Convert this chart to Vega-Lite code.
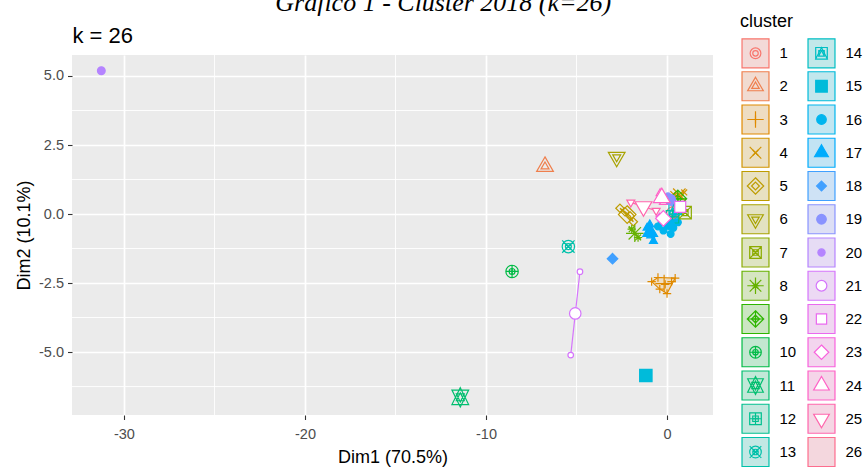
{
  "$schema": "https://vega.github.io/schema/vega-lite/v6.json",
  "width": 641,
  "height": 360,
  "autosize": {"type": "none"},
  "padding": {"left": 72, "top": 55, "right": 155, "bottom": 55},
  "background": "white",
  "title": {
    "text": "Gráfico 1 - Cluster 2018 (k=26)",
    "font": "Liberation Serif",
    "fontStyle": "italic",
    "fontWeight": "normal",
    "fontSize": 26,
    "color": "black",
    "anchor": "middle",
    "frame": "bounds",
    "offset": 0,
    "dy": 3,
    "dx": 4
  },
  "config": {
    "view": {"fill": "#EBEBEB", "stroke": null},
    "font": "Liberation Sans",
    "legend": {"symbolFillColor": "transparent"}
  },
  "datasets": {
    "gx": [{"v": -25}, {"v": -15}, {"v": -5}],
    "gy": [{"v": 3.75}, {"v": 1.25}, {"v": -1.25}, {"v": -3.75}, {"v": -6.25}],
    "hull": [
      {"cluster": "3", "x": -0.85, "y": -2.45, "ord": 1},
      {"cluster": "3", "x": -0.5, "y": -2.3, "ord": 2},
      {"cluster": "3", "x": 0.45, "y": -2.32, "ord": 3},
      {"cluster": "3", "x": 0.0, "y": -2.88, "ord": 4},
      {"cluster": "3", "x": -0.4, "y": -2.72, "ord": 5},
      {"cluster": "3", "x": -0.85, "y": -2.45, "ord": 6},
      {"cluster": "4", "x": 0.35, "y": 0.72, "ord": 1},
      {"cluster": "4", "x": 0.95, "y": 0.78, "ord": 2},
      {"cluster": "4", "x": 0.75, "y": 0.6, "ord": 3},
      {"cluster": "4", "x": 0.35, "y": 0.72, "ord": 4},
      {"cluster": "5", "x": -2.6, "y": 0.21, "ord": 1},
      {"cluster": "5", "x": -2.32, "y": 0.08, "ord": 2},
      {"cluster": "5", "x": -2.04, "y": -0.07, "ord": 3},
      {"cluster": "5", "x": -1.86, "y": -0.28, "ord": 4},
      {"cluster": "5", "x": -2.6, "y": 0.21, "ord": 5},
      {"cluster": "8", "x": -1.95, "y": -0.55, "ord": 1},
      {"cluster": "8", "x": -1.6, "y": -0.85, "ord": 2},
      {"cluster": "16", "x": -0.5, "y": -0.45, "ord": 1},
      {"cluster": "16", "x": -0.05, "y": -0.25, "ord": 2},
      {"cluster": "16", "x": 0.5, "y": 0.0, "ord": 3},
      {"cluster": "16", "x": 0.6, "y": -0.3, "ord": 4},
      {"cluster": "16", "x": 0.2, "y": -0.72, "ord": 5},
      {"cluster": "16", "x": -0.2, "y": -0.6, "ord": 6},
      {"cluster": "16", "x": -0.5, "y": -0.45, "ord": 7},
      {"cluster": "17", "x": -1.1, "y": -0.5, "ord": 1},
      {"cluster": "17", "x": -0.95, "y": -0.38, "ord": 2},
      {"cluster": "17", "x": -0.75, "y": -0.98, "ord": 3},
      {"cluster": "17", "x": -1.1, "y": -0.5, "ord": 4},
      {"cluster": "19", "x": 0.05, "y": 0.65, "ord": 1},
      {"cluster": "19", "x": 0.3, "y": 0.4, "ord": 2},
      {"cluster": "21", "x": -4.81, "y": -2.09, "ord": 1},
      {"cluster": "21", "x": -5.32, "y": -5.11, "ord": 2},
      {"cluster": "22", "x": 0.6, "y": 0.32, "ord": 1},
      {"cluster": "22", "x": 0.86, "y": 0.2, "ord": 2},
      {"cluster": "23", "x": -0.4, "y": -0.1, "ord": 1},
      {"cluster": "23", "x": 0.0, "y": -0.22, "ord": 2},
      {"cluster": "24", "x": -0.38, "y": 0.75, "ord": 1},
      {"cluster": "24", "x": -0.2, "y": 0.43, "ord": 2},
      {"cluster": "25", "x": -2.0, "y": 0.42, "ord": 1},
      {"cluster": "25", "x": -0.6, "y": 0.12, "ord": 2}
    ],
    "obs": [
      {"cluster": "1", "x": 0.3, "y": 0.05},
      {"cluster": "2", "x": -6.74, "y": 1.72},
      {"cluster": "3", "x": -0.85, "y": -2.45},
      {"cluster": "3", "x": -0.5, "y": -2.3},
      {"cluster": "3", "x": -0.1, "y": -2.55},
      {"cluster": "3", "x": 0.25, "y": -2.45},
      {"cluster": "3", "x": -0.4, "y": -2.72},
      {"cluster": "3", "x": 0.0, "y": -2.88},
      {"cluster": "3", "x": 0.45, "y": -2.32},
      {"cluster": "4", "x": 0.35, "y": 0.72},
      {"cluster": "4", "x": 0.75, "y": 0.6},
      {"cluster": "4", "x": 0.95, "y": 0.78},
      {"cluster": "5", "x": -2.6, "y": 0.21},
      {"cluster": "5", "x": -2.32, "y": 0.08},
      {"cluster": "5", "x": -2.04, "y": -0.07},
      {"cluster": "5", "x": -1.86, "y": -0.28},
      {"cluster": "6", "x": -2.78, "y": 2.06},
      {"cluster": "7", "x": 1.0, "y": 0.05},
      {"cluster": "8", "x": -1.95, "y": -0.55},
      {"cluster": "8", "x": -1.6, "y": -0.85},
      {"cluster": "9", "x": 0.6, "y": 0.55},
      {"cluster": "10", "x": -8.56, "y": -2.08},
      {"cluster": "11", "x": -11.42, "y": -6.64},
      {"cluster": "12", "x": 0.3, "y": -0.1},
      {"cluster": "13", "x": -5.45, "y": -1.18},
      {"cluster": "14", "x": 0.45, "y": 0.2},
      {"cluster": "15", "x": -1.17, "y": -5.85},
      {"cluster": "16", "x": -0.5, "y": -0.45},
      {"cluster": "16", "x": -0.2, "y": -0.6},
      {"cluster": "16", "x": 0.1, "y": -0.42},
      {"cluster": "16", "x": 0.3, "y": -0.2},
      {"cluster": "16", "x": 0.5, "y": 0.0},
      {"cluster": "16", "x": 0.2, "y": -0.72},
      {"cluster": "16", "x": -0.05, "y": -0.25},
      {"cluster": "16", "x": 0.6, "y": -0.3},
      {"cluster": "16", "x": -0.3, "y": -0.3},
      {"cluster": "16", "x": 0.35, "y": -0.5},
      {"cluster": "17", "x": -1.1, "y": -0.5},
      {"cluster": "17", "x": -0.9, "y": -0.78},
      {"cluster": "17", "x": -0.75, "y": -0.98},
      {"cluster": "17", "x": -0.95, "y": -0.38},
      {"cluster": "18", "x": -3.01, "y": -1.62},
      {"cluster": "19", "x": 0.05, "y": 0.65},
      {"cluster": "19", "x": 0.3, "y": 0.4},
      {"cluster": "20", "x": -31.25, "y": 5.19},
      {"cluster": "21", "x": -4.81, "y": -2.09},
      {"cluster": "21", "x": -5.32, "y": -5.11},
      {"cluster": "22", "x": 0.6, "y": 0.32},
      {"cluster": "22", "x": 0.86, "y": 0.2},
      {"cluster": "23", "x": -0.4, "y": -0.1},
      {"cluster": "23", "x": 0.0, "y": -0.22},
      {"cluster": "24", "x": -0.38, "y": 0.75},
      {"cluster": "24", "x": -0.2, "y": 0.43},
      {"cluster": "25", "x": -2.0, "y": 0.42},
      {"cluster": "25", "x": -0.6, "y": 0.12},
      {"cluster": "26", "x": 0.2, "y": 0.1}
    ],
    "cent": [
      {"cluster": "1", "x": 0.3, "y": 0.05},
      {"cluster": "2", "x": -6.74, "y": 1.72},
      {"cluster": "3", "x": -0.16, "y": -2.52},
      {"cluster": "4", "x": 0.68, "y": 0.7},
      {"cluster": "5", "x": -2.2, "y": -0.02},
      {"cluster": "6", "x": -2.78, "y": 2.06},
      {"cluster": "7", "x": 1.0, "y": 0.05},
      {"cluster": "8", "x": -1.78, "y": -0.7},
      {"cluster": "9", "x": 0.6, "y": 0.55},
      {"cluster": "10", "x": -8.56, "y": -2.08},
      {"cluster": "11", "x": -11.42, "y": -6.64},
      {"cluster": "12", "x": 0.3, "y": -0.1},
      {"cluster": "13", "x": -5.45, "y": -1.18},
      {"cluster": "14", "x": 0.45, "y": 0.2},
      {"cluster": "15", "x": -1.17, "y": -5.85},
      {"cluster": "16", "x": 0.12, "y": -0.37},
      {"cluster": "17", "x": -0.93, "y": -0.66},
      {"cluster": "18", "x": -3.01, "y": -1.62},
      {"cluster": "19", "x": 0.18, "y": 0.53},
      {"cluster": "20", "x": -31.25, "y": 5.19},
      {"cluster": "21", "x": -5.07, "y": -3.6},
      {"cluster": "22", "x": 0.73, "y": 0.26},
      {"cluster": "23", "x": -0.2, "y": -0.16},
      {"cluster": "24", "x": -0.29, "y": 0.59},
      {"cluster": "25", "x": -1.3, "y": 0.27},
      {"cluster": "26", "x": 0.2, "y": 0.1}
    ]
  },
  "layer": [
    {
      "data": {"name": "gx"},
      "mark": {"type": "rule", "color": "white", "strokeWidth": 0.9},
      "encoding": {
        "x": {
          "field": "v", "type": "quantitative",
          "scale": {"domain": [-32.87, 2.54], "nice": false, "zero": false},
          "axis": {
            "values": [-30, -20, -10, 0], "format": "d",
            "labelExpr": "replace(datum.label, '−', '-')",
            "grid": true, "gridColor": "white", "gridWidth": 1.7,
            "domain": false, "tickColor": "#333333", "tickSize": 4.5, "tickWidth": 1.1,
            "labelColor": "#4D4D4D", "labelFontSize": 14.5, "labelFont": "Liberation Sans", "labelPadding": 8,
            "title": "Dim1 (70.5%)", "titleFontSize": 18, "titleFontWeight": "normal",
            "titleColor": "black", "titleFont": "Liberation Sans", "titlePadding": 7
          }
        }
      }
    },
    {
      "data": {"name": "gy"},
      "mark": {"type": "rule", "color": "white", "strokeWidth": 0.9},
      "encoding": {
        "y": {
          "field": "v", "type": "quantitative",
          "scale": {"domain": [-7.28, 5.76], "nice": false, "zero": false},
          "axis": {
            "values": [-5, -2.5, 0, 2.5, 5], "format": ".1f",
            "labelExpr": "replace(datum.label, '−', '-')",
            "grid": true, "gridColor": "white", "gridWidth": 1.7,
            "domain": false, "tickColor": "#333333", "tickSize": 4.5, "tickWidth": 1.1,
            "labelColor": "#4D4D4D", "labelFontSize": 14.5, "labelFont": "Liberation Sans", "labelPadding": 4,
            "title": "Dim2 (10.1%)", "titleFontSize": 18, "titleFontWeight": "normal",
            "titleColor": "black", "titleFont": "Liberation Sans", "titlePadding": 5
          }
        }
      }
    },
    {
      "data": {"name": "hull"},
      "mark": {"type": "line", "strokeWidth": 1.2},
      "encoding": {
        "x": {
          "field": "x", "type": "quantitative",
          "scale": {"domain": [-32.87, 2.54], "nice": false, "zero": false},
          "axis": {
            "orient": "top", "labels": false, "ticks": false, "domain": false, "grid": false,
            "title": "k = 26", "titleAnchor": "start", "titleFontSize": 22, "titleFontWeight": "normal",
            "titleColor": "black", "titleFont": "Liberation Sans", "titlePadding": 13, "titleBaseline": "alphabetic"
          }
        },
        "y": {"field": "y", "type": "quantitative", "scale": {"domain": [-7.28, 5.76], "nice": false, "zero": false}},
        "order": {"field": "ord", "type": "quantitative"},
        "stroke": {
          "field": "cluster", "type": "nominal",
          "scale": {
            "domain": ["1","2","3","4","5","6","7","8","9","10","11","12","13","14","15","16","17","18","19","20","21","22","23","24","25","26"],
            "range": ["#F8766D","#EF7F4D","#E08A00","#D19400","#BE9C00","#A8A300","#8CAB00","#66B100","#2DB600","#00BB46","#00BE6F","#00C090","#00C1AA","#00BFC4","#00BBDA","#00B5EE","#00ACFC","#40A0FF","#8993FF","#B584FF","#D575FC","#EA69EF","#F862DD","#FF61C6","#FF65AC","#FD6D8E"]
          },
          "legend": {
            "orient": "none", "legendX": 668, "legendY": -42.5, "direction": "vertical", "columns": 2,
            "title": "cluster", "titleFont": "Liberation Sans", "titleFontSize": 18, "titleFontWeight": "normal",
            "titleColor": "black", "titlePadding": 7,
            "labelFont": "Liberation Sans", "labelFontSize": 15, "labelColor": "black", "labelOffset": 8.5,
            "symbolSize": 841, "symbolStrokeWidth": 1.2, "symbolFillColor": "transparent",
            "symbolType": "M-1,-1M1,1M-0.93,-1H0.93V1H-0.93Z",
            "rowPadding": -1.75, "columnPadding": 7, "padding": 0
          }
        },
        "fill": {
          "field": "cluster", "type": "nominal",
          "scale": {
            "domain": ["1","2","3","4","5","6","7","8","9","10","11","12","13","14","15","16","17","18","19","20","21","22","23","24","25","26"],
            "range": ["#F3D9D7","#F1DBD1","#EEDDC2","#EBDFC2","#E8E1C2","#E3E2C2","#DEE4C2","#D6E5C2","#CBE6C2","#C2E7D0","#C2E8D8","#C2E8DE","#C2E8E4","#C2E8E9","#C2E7ED","#C2E6F1","#C2E4F4","#CEE2F5","#DDDFF5","#E6DCF5","#ECD9F4","#F0D7F1","#F3D5EE","#F5D5E9","#F5D6E4","#F4D7DE"]
          },
          "legend": {
            "orient": "none", "legendX": 668, "legendY": -42.5, "direction": "vertical", "columns": 2,
            "title": "cluster", "titleFont": "Liberation Sans", "titleFontSize": 18, "titleFontWeight": "normal",
            "titleColor": "black", "titlePadding": 7,
            "labelFont": "Liberation Sans", "labelFontSize": 15, "labelColor": "black", "labelOffset": 8.5,
            "symbolSize": 841, "symbolStrokeWidth": 1.2, "symbolFillColor": "transparent",
            "symbolType": "M-1,-1M1,1M-0.93,-1H0.93V1H-0.93Z",
            "rowPadding": -1.75, "columnPadding": 7, "padding": 0
          }
        }
      }
    },
    {
      "data": {"name": "obs"},
      "mark": {"type": "point", "size": 961, "strokeWidth": 1.2, "opacity": 1},
      "encoding": {
        "x": {"field": "x", "type": "quantitative", "scale": {"domain": [-32.87, 2.54], "nice": false, "zero": false}, "axis": null},
        "y": {"field": "y", "type": "quantitative", "scale": {"domain": [-7.28, 5.76], "nice": false, "zero": false}},
        "stroke": {
          "field": "cluster", "type": "nominal",
          "scale": {
            "domain": ["1","2","3","4","5","6","7","8","9","10","11","12","13","14","15","16","17","18","19","20","21","22","23","24","25","26"],
            "range": ["#F8766D","#EF7F4D","#E08A00","#D19400","#BE9C00","#A8A300","#8CAB00","#66B100","#2DB600","#00BB46","#00BE6F","#00C090","#00C1AA","#00BFC4","#00BBDA","#00B5EE","#00ACFC","#40A0FF","#8993FF","#B584FF","#D575FC","#EA69EF","#F862DD","#FF61C6","#FF65AC","#FD6D8E"]
          },
          "legend": {
            "orient": "none", "legendX": 668, "legendY": -42.5, "direction": "vertical", "columns": 2,
            "title": "cluster", "titleFont": "Liberation Sans", "titleFontSize": 18, "titleFontWeight": "normal",
            "titleColor": "transparent", "titlePadding": 7,
            "labelFont": "Liberation Sans", "labelFontSize": 15, "labelColor": "transparent", "labelOffset": 8.5,
            "symbolSize": 841, "symbolStrokeWidth": 1.2, "symbolFillColor": "transparent",
            "rowPadding": -1.75, "columnPadding": 7, "padding": 0
          }
        },
        "fill": {
          "field": "cluster", "type": "nominal",
          "scale": {
            "domain": ["1","2","3","4","5","6","7","8","9","10","11","12","13","14","15","16","17","18","19","20","21","22","23","24","25","26"],
            "range": ["transparent","transparent","transparent","transparent","transparent","transparent","transparent","transparent","transparent","transparent","transparent","transparent","transparent","transparent","#00BBDA","#00B5EE","#00ACFC","#40A0FF","#8993FF","#B584FF","white","white","white","white","white","transparent"]
          },
          "legend": {
            "orient": "none", "legendX": 668, "legendY": -42.5, "direction": "vertical", "columns": 2,
            "title": "cluster", "titleFont": "Liberation Sans", "titleFontSize": 18, "titleFontWeight": "normal",
            "titleColor": "transparent", "titlePadding": 7,
            "labelFont": "Liberation Sans", "labelFontSize": 15, "labelColor": "transparent", "labelOffset": 8.5,
            "symbolSize": 841, "symbolStrokeWidth": 1.2, "symbolFillColor": "transparent",
            "rowPadding": -1.75, "columnPadding": 7, "padding": 0
          }
        },
        "shape": {
          "field": "cluster", "type": "nominal",
          "scale": {
            "domain": ["1","2","3","4","5","6","7","8","9","10","11","12","13","14","15","16","17","18","19","20","21","22","23","24","25","26"],
            "range": [
              "M-1,-1M1,1M0.19,0A0.19,0.19 0 1 1 -0.19,0A0.19,0.19 0 1 1 0.19,0Z",
              "M-1,-1M1,1M0,-0.295L0.256,0.148L-0.256,0.148Z",
              "M-1,-1M1,1M-0.269,0H0.269M0,-0.269V0.269",
              "M-1,-1M1,1M-0.19,-0.19L0.19,0.19M-0.19,0.19L0.19,-0.19",
              "M-1,-1M1,1M0,-0.269L0.269,0L0,0.269L-0.269,0Z",
              "M-1,-1M1,1M0,0.295L0.256,-0.148L-0.256,-0.148Z",
              "M-1,-1M1,1M-0.19,-0.19H0.19V0.19H-0.19ZM-0.19,-0.19L0.19,0.19M-0.19,0.19L0.19,-0.19",
              "M-1,-1M1,1M-0.19,-0.19L0.19,0.19M-0.19,0.19L0.19,-0.19M-0.269,0H0.269M0,-0.269V0.269",
              "M-1,-1M1,1M0,-0.269L0.269,0L0,0.269L-0.269,0ZM-0.269,0H0.269M0,-0.269V0.269",
              "M-1,-1M1,1M0.19,0A0.19,0.19 0 1 1 -0.19,0A0.19,0.19 0 1 1 0.19,0ZM-0.19,0H0.19M0,-0.19V0.19",
              "M-1,-1M1,1M0,-0.295L0.256,0.222L-0.256,0.222ZM0,0.295L0.256,-0.222L-0.256,-0.222Z",
              "M-1,-1M1,1M-0.19,-0.19H0.19V0.19H-0.19ZM-0.19,0H0.19M0,-0.19V0.19",
              "M-1,-1M1,1M0.19,0A0.19,0.19 0 1 1 -0.19,0A0.19,0.19 0 1 1 0.19,0ZM-0.19,-0.19L0.19,0.19M-0.19,0.19L0.19,-0.19",
              "M-1,-1M1,1M-0.19,-0.19H0.19V0.19H-0.19ZM0,-0.19L0.19,0.19L-0.19,0.19Z",
              "M-1,-1M1,1M-0.19,-0.19H0.19V0.19H-0.19Z",
              "M-1,-1M1,1M0.22,0A0.22,0.22 0 1 1 -0.22,0A0.22,0.22 0 1 1 0.22,0Z",
              "M-1,-1M1,1M0,-0.295L0.256,0.148L-0.256,0.148Z",
              "M-1,-1M1,1M0,-0.19L0.19,0L0,0.19L-0.19,0Z",
              "M-1,-1M1,1M0.2,0A0.2,0.2 0 1 1 -0.2,0A0.2,0.2 0 1 1 0.2,0Z",
              "M-1,-1M1,1M0.12,0A0.12,0.12 0 1 1 -0.12,0A0.12,0.12 0 1 1 0.12,0Z",
              "M-1,-1M1,1M0.18,0A0.18,0.18 0 1 1 -0.18,0A0.18,0.18 0 1 1 0.18,0Z",
              "M-1,-1M1,1M-0.168,-0.168H0.168V0.168H-0.168Z",
              "M-1,-1M1,1M0,-0.238L0.238,0L0,0.238L-0.238,0Z",
              "M-1,-1M1,1M0,-0.295L0.256,0.148L-0.256,0.148Z",
              "M-1,-1M1,1M0,0.295L0.256,-0.148L-0.256,-0.148Z",
              "M-1,-1M1,1"
            ]
          },
          "legend": {
            "orient": "none", "legendX": 668, "legendY": -42.5, "direction": "vertical", "columns": 2,
            "title": "cluster", "titleFont": "Liberation Sans", "titleFontSize": 18, "titleFontWeight": "normal",
            "titleColor": "transparent", "titlePadding": 7,
            "labelFont": "Liberation Sans", "labelFontSize": 15, "labelColor": "transparent", "labelOffset": 8.5,
            "symbolSize": 841, "symbolStrokeWidth": 1.2, "symbolFillColor": "transparent",
            "rowPadding": -1.75, "columnPadding": 7, "padding": 0
          }
        }
      }
    },
    {
      "data": {"name": "cent"},
      "mark": {"type": "point", "size": 961, "strokeWidth": 1.2, "opacity": 1},
      "encoding": {
        "x": {"field": "x", "type": "quantitative", "scale": {"domain": [-32.87, 2.54], "nice": false, "zero": false}, "axis": null},
        "y": {"field": "y", "type": "quantitative", "scale": {"domain": [-7.28, 5.76], "nice": false, "zero": false}},
        "stroke": {
          "field": "cluster", "type": "nominal",
          "scale": {
            "domain": ["1","2","3","4","5","6","7","8","9","10","11","12","13","14","15","16","17","18","19","20","21","22","23","24","25","26"],
            "range": ["#F8766D","#EF7F4D","#E08A00","#D19400","#BE9C00","#A8A300","#8CAB00","#66B100","#2DB600","#00BB46","#00BE6F","#00C090","#00C1AA","#00BFC4","#00BBDA","#00B5EE","#00ACFC","#40A0FF","#8993FF","#B584FF","#D575FC","#EA69EF","#F862DD","#FF61C6","#FF65AC","#FD6D8E"]
          },
          "legend": {
            "orient": "none", "legendX": 668, "legendY": -42.5, "direction": "vertical", "columns": 2,
            "title": "cluster", "titleFont": "Liberation Sans", "titleFontSize": 18, "titleFontWeight": "normal",
            "titleColor": "transparent", "titlePadding": 7,
            "labelFont": "Liberation Sans", "labelFontSize": 15, "labelColor": "transparent", "labelOffset": 8.5,
            "symbolSize": 841, "symbolStrokeWidth": 1.2, "symbolFillColor": "transparent",
            "rowPadding": -1.75, "columnPadding": 7, "padding": 0
          }
        },
        "fill": {
          "field": "cluster", "type": "nominal",
          "scale": {
            "domain": ["1","2","3","4","5","6","7","8","9","10","11","12","13","14","15","16","17","18","19","20","21","22","23","24","25","26"],
            "range": ["transparent","transparent","transparent","transparent","transparent","transparent","transparent","transparent","transparent","transparent","transparent","transparent","transparent","transparent","#00BBDA","#00B5EE","#00ACFC","#40A0FF","#8993FF","#B584FF","white","white","white","white","white","transparent"]
          },
          "legend": {
            "orient": "none", "legendX": 668, "legendY": -42.5, "direction": "vertical", "columns": 2,
            "title": "cluster", "titleFont": "Liberation Sans", "titleFontSize": 18, "titleFontWeight": "normal",
            "titleColor": "transparent", "titlePadding": 7,
            "labelFont": "Liberation Sans", "labelFontSize": 15, "labelColor": "transparent", "labelOffset": 8.5,
            "symbolSize": 841, "symbolStrokeWidth": 1.2, "symbolFillColor": "transparent",
            "rowPadding": -1.75, "columnPadding": 7, "padding": 0
          }
        },
        "shape": {
          "field": "cluster", "type": "nominal",
          "scale": {
            "domain": ["1","2","3","4","5","6","7","8","9","10","11","12","13","14","15","16","17","18","19","20","21","22","23","24","25","26"],
            "range": [
              "M-1,-1M1,1M0.37,0A0.37,0.37 0 1 1 -0.37,0A0.37,0.37 0 1 1 0.37,0Z",
              "M-1,-1M1,1M0,-0.622L0.539,0.311L-0.539,0.311Z",
              "M-1,-1M1,1M-0.566,0H0.566M0,-0.566V0.566",
              "M-1,-1M1,1M-0.4,-0.4L0.4,0.4M-0.4,0.4L0.4,-0.4",
              "M-1,-1M1,1M0,-0.566L0.566,0L0,0.566L-0.566,0Z",
              "M-1,-1M1,1M0,0.622L0.539,-0.311L-0.539,-0.311Z",
              "M-1,-1M1,1M-0.4,-0.4H0.4V0.4H-0.4ZM-0.4,-0.4L0.4,0.4M-0.4,0.4L0.4,-0.4",
              "M-1,-1M1,1M-0.4,-0.4L0.4,0.4M-0.4,0.4L0.4,-0.4M-0.566,0H0.566M0,-0.566V0.566",
              "M-1,-1M1,1M0,-0.566L0.566,0L0,0.566L-0.566,0ZM-0.566,0H0.566M0,-0.566V0.566",
              "M-1,-1M1,1M0.4,0A0.4,0.4 0 1 1 -0.4,0A0.4,0.4 0 1 1 0.4,0ZM-0.4,0H0.4M0,-0.4V0.4",
              "M-1,-1M1,1M0,-0.622L0.539,0.467L-0.539,0.467ZM0,0.622L0.539,-0.467L-0.539,-0.467Z",
              "M-1,-1M1,1M-0.4,-0.4H0.4V0.4H-0.4ZM-0.4,0H0.4M0,-0.4V0.4",
              "M-1,-1M1,1M0.4,0A0.4,0.4 0 1 1 -0.4,0A0.4,0.4 0 1 1 0.4,0ZM-0.4,-0.4L0.4,0.4M-0.4,0.4L0.4,-0.4",
              "M-1,-1M1,1M-0.4,-0.4H0.4V0.4H-0.4ZM0,-0.4L0.4,0.4L-0.4,0.4Z",
              "M-1,-1M1,1M-0.4,-0.4H0.4V0.4H-0.4Z",
              "M-1,-1M1,1M0.33,0A0.33,0.33 0 1 1 -0.33,0A0.33,0.33 0 1 1 0.33,0Z",
              "M-1,-1M1,1M0,-0.55L0.476,0.275L-0.476,0.275Z",
              "M-1,-1M1,1M0,-0.34L0.34,0L0,0.34L-0.34,0Z",
              "M-1,-1M1,1M0.33,0A0.33,0.33 0 1 1 -0.33,0A0.33,0.33 0 1 1 0.33,0Z",
              "M-1,-1M1,1M0.25,0A0.25,0.25 0 1 1 -0.25,0A0.25,0.25 0 1 1 0.25,0Z",
              "M-1,-1M1,1M0.37,0A0.37,0.37 0 1 1 -0.37,0A0.37,0.37 0 1 1 0.37,0Z",
              "M-1,-1M1,1M-0.354,-0.354H0.354V0.354H-0.354Z",
              "M-1,-1M1,1M0,-0.501L0.501,0L0,0.501L-0.501,0Z",
              "M-1,-1M1,1M0,-0.622L0.539,0.311L-0.539,0.311Z",
              "M-1,-1M1,1M0,0.622L0.539,-0.311L-0.539,-0.311Z",
              "M-1,-1M1,1"
            ]
          },
          "legend": {
            "orient": "none", "legendX": 668, "legendY": -42.5, "direction": "vertical", "columns": 2,
            "title": "cluster", "titleFont": "Liberation Sans", "titleFontSize": 18, "titleFontWeight": "normal",
            "titleColor": "transparent", "titlePadding": 7,
            "labelFont": "Liberation Sans", "labelFontSize": 15, "labelColor": "transparent", "labelOffset": 8.5,
            "symbolSize": 841, "symbolStrokeWidth": 1.2, "symbolFillColor": "transparent",
            "rowPadding": -1.75, "columnPadding": 7, "padding": 0
          }
        }
      }
    }
  ],
  "resolve": {
    "scale": {"fill": "independent", "stroke": "independent", "shape": "independent"},
    "axis": {"x": "independent"}
  }
}
